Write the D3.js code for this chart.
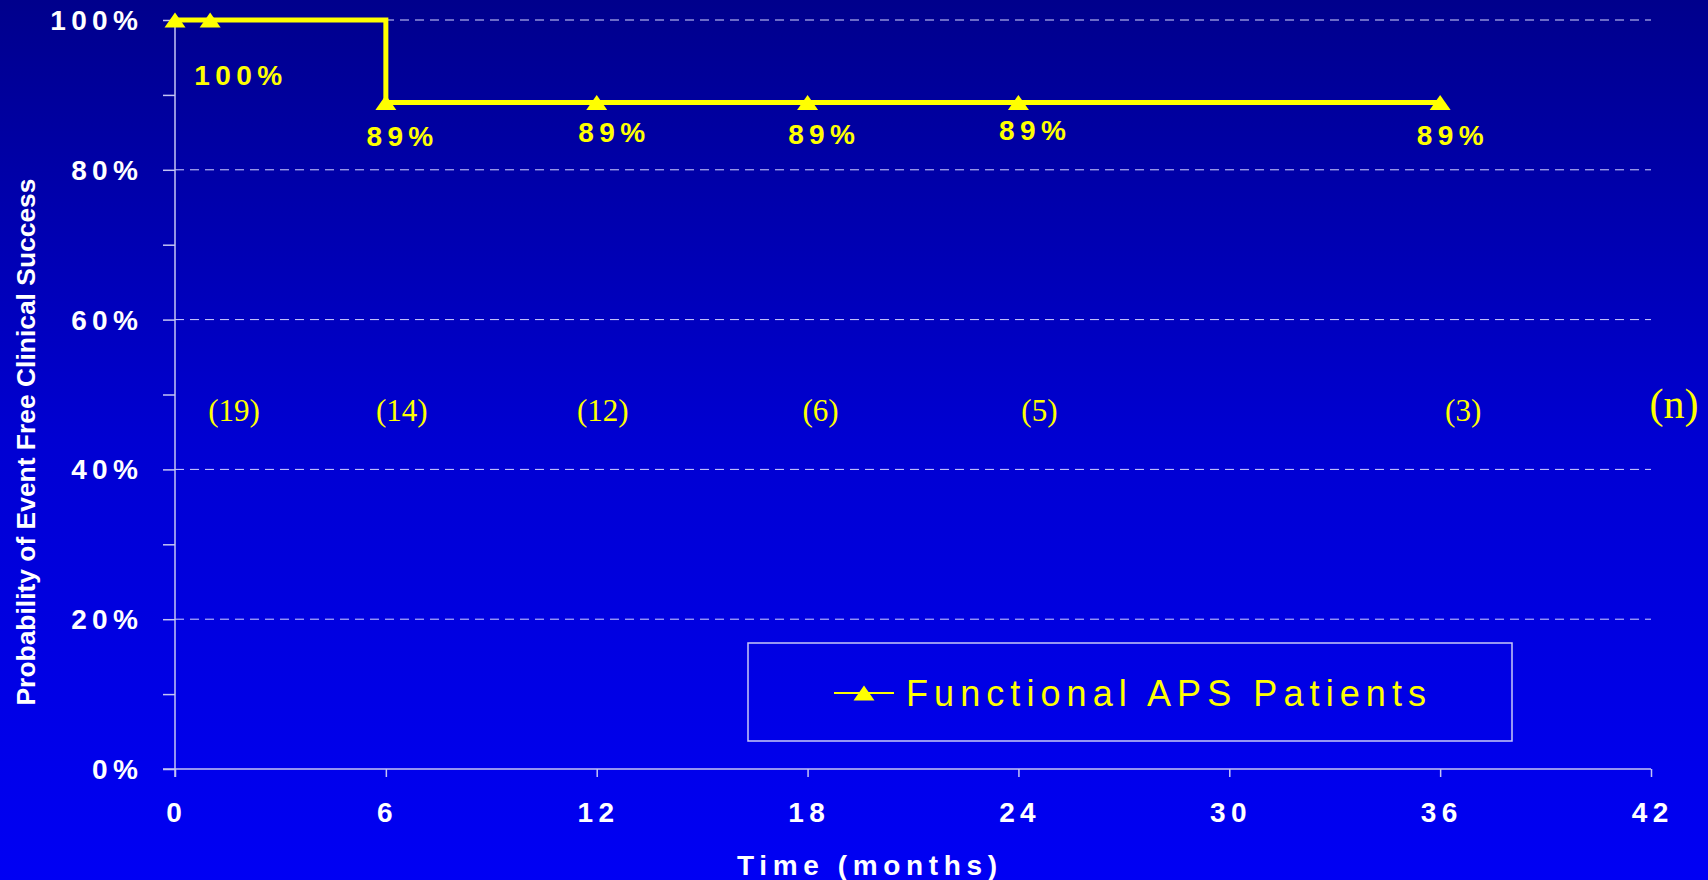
<!DOCTYPE html>
<html>
<head>
<meta charset="utf-8">
<script src="https://cdn.jsdelivr.net/npm/d3@7"></script>
<style>
  html, body { margin: 0; padding: 0; background: #0000c0; }
  svg { display: block; }
</style>
</head>
<body>
<svg id="chart" width="1708" height="880"></svg>
<script>
// Kaplan-Meier style event-free curve
const months = [0, 1, 6, 12, 18, 24, 36];
const survival = [100, 100, 89, 89, 89, 89, 89];
const valueLabels = ["", "100%", "89%", "89%", "89%", "89%", "89%"];

// patients at risk
const riskTimes = [0, 6, 12, 18, 24, 36];
const riskCounts = [19, 14, 12, 6, 5, 3];

const xTicks = [0, 6, 12, 18, 24, 30, 36, 42];
const yTicks = [0, 10, 20, 30, 40, 50, 60, 70, 80, 90, 100];
const yLabelTicks = [0, 20, 40, 60, 80, 100];
const seriesName = "Functional APS Patients";

// label nudges (pixels) for the annotations
const valueLabelNudge = [[0, 0], [28, 65], [14, 44], [15, 40], [14, 42], [14, 38], [10, 43]];
const riskNudge = [59, 16, 6, 13, 21, 23];

const W = 1708, H = 880;
const svg = d3.select("#chart");

// background gradient
const defs = svg.append("defs");
const grad = defs.append("linearGradient").attr("id", "bg")
  .attr("x1", 0).attr("y1", 0).attr("x2", 0).attr("y2", 1);
grad.append("stop").attr("offset", 0).attr("stop-color", "#00008c");
grad.append("stop").attr("offset", 0.5).attr("stop-color", "#0000d2");
grad.append("stop").attr("offset", 1).attr("stop-color", "#0000f4");
svg.append("rect").attr("width", W).attr("height", H).attr("fill", "url(#bg)");

const x = d3.scaleLinear().domain([0, 42]).range([175, 1651]);
const y = d3.scaleLinear().domain([0, 100]).range([769, 20]);

const axisColor = "#c4c4f4";
const boldFont = "'Liberation Sans', Arial, sans-serif";

// dashed gridlines
svg.append("g").selectAll("line")
  .data(yLabelTicks.filter(d => d > 0))
  .join("line")
  .attr("x1", x(0)).attr("x2", x(42))
  .attr("y1", d => y(d)).attr("y2", d => y(d))
  .attr("stroke", "#d4d4ff").attr("stroke-width", 1)
  .attr("stroke-dasharray", "9,6");

// y axis
const yAxis = svg.append("g")
  .attr("transform", `translate(${x(0)},0)`)
  .call(d3.axisLeft(y).tickValues(yTicks).tickSize(12).tickFormat(""));
yAxis.select(".domain").attr("stroke", axisColor).attr("stroke-width", 1.5).attr("d", `M0,${y(0) + 8}V${y(100)}`);
yAxis.selectAll(".tick line").attr("stroke", axisColor).attr("stroke-width", 1.5);

// y tick labels
svg.append("g").selectAll("text")
  .data(yLabelTicks)
  .join("text")
  .attr("x", 138 + 5.4)
  .attr("y", d => y(d) + 10)
  .attr("text-anchor", "end")
  .attr("fill", "#ffffff")
  .attr("font-family", boldFont)
  .attr("font-weight", "bold")
  .attr("font-size", 28)
  .attr("letter-spacing", 5.4)
  .text(d => d + "%");

// x axis
const xAxis = svg.append("g")
  .attr("transform", `translate(0,${y(0)})`)
  .call(d3.axisBottom(x).tickValues(xTicks).tickSize(8).tickFormat(""));
xAxis.select(".domain").attr("stroke", axisColor).attr("stroke-width", 1.5).attr("d", `M${x(0) - 12},0H${x(42)}`);
xAxis.selectAll(".tick line").attr("stroke", axisColor).attr("stroke-width", 1.5);

// x tick labels
svg.append("g").selectAll("text")
  .data(xTicks)
  .join("text")
  .attr("x", d => x(d) - 1 + 2.7)
  .attr("y", 822)
  .attr("text-anchor", "middle")
  .attr("fill", "#ffffff")
  .attr("font-family", boldFont)
  .attr("font-weight", "bold")
  .attr("font-size", 28)
  .attr("letter-spacing", 5.4)
  .text(d => d);

// axis titles
svg.append("text")
  .attr("x", 867).attr("y", 875)
  .attr("text-anchor", "middle")
  .attr("fill", "#ffffff")
  .attr("font-family", boldFont)
  .attr("font-weight", "bold")
  .attr("font-size", 28)
  .attr("textLength", 260)
  .attr("lengthAdjust", "spacing")
  .text("Time (months)");

svg.append("text")
  .attr("transform", "translate(35,442) rotate(-90)")
  .attr("text-anchor", "middle")
  .attr("fill", "#ffffff")
  .attr("font-family", boldFont)
  .attr("font-weight", "bold")
  .attr("font-size", 26)
  .attr("textLength", 527)
  .attr("lengthAdjust", "spacingAndGlyphs")
  .text("Probability of Event Free Clinical Success");

// step curve
const pts = months.map((m, i) => ({ m, v: survival[i], label: valueLabels[i], i }));
const line = d3.line().x(d => x(d.m)).y(d => y(d.v)).curve(d3.curveStepAfter);
svg.append("path")
  .datum(pts)
  .attr("d", line)
  .attr("fill", "none")
  .attr("stroke", "#ffff00")
  .attr("stroke-width", 5)
  .attr("stroke-linejoin", "miter");

// triangle markers (21 wide, 15 tall)
const tri = {
  draw(ctx) {
    ctx.moveTo(0, -7.5);
    ctx.lineTo(10.5, 7.5);
    ctx.lineTo(-10.5, 7.5);
    ctx.closePath();
  }
};
svg.append("g").selectAll("path")
  .data(pts)
  .join("path")
  .attr("transform", d => `translate(${x(d.m)},${y(d.v)})`)
  .attr("d", d3.symbol(tri)())
  .attr("fill", "#ffff00");

// value labels
svg.append("g").selectAll("text")
  .data(pts.filter(d => d.label))
  .join("text")
  .attr("x", d => x(d.m) + valueLabelNudge[d.i][0] + 2.7)
  .attr("y", d => y(d.v) + valueLabelNudge[d.i][1])
  .attr("text-anchor", "middle")
  .attr("fill", "#ffff00")
  .attr("font-family", boldFont)
  .attr("font-weight", "bold")
  .attr("font-size", 28)
  .attr("letter-spacing", 5.4)
  .text(d => d.label);

// numbers at risk
const serif = "'Liberation Serif', 'Times New Roman', serif";
svg.append("g").selectAll("text")
  .data(riskTimes.map((t, i) => ({ t, n: riskCounts[i], i })))
  .join("text")
  .attr("x", d => x(d.t) + riskNudge[d.i])
  .attr("y", 421)
  .attr("text-anchor", "middle")
  .attr("fill", "#ffff00")
  .attr("font-family", serif)
  .attr("font-size", 31)
  .text(d => `(${d.n})`);

svg.append("text")
  .attr("x", 1674).attr("y", 418)
  .attr("text-anchor", "middle")
  .attr("fill", "#ffff00")
  .attr("font-family", serif)
  .attr("font-size", 42)
  .text("(n)");

// legend
const lg = svg.append("g");
lg.append("rect")
  .attr("x", 748).attr("y", 643)
  .attr("width", 764).attr("height", 98)
  .attr("fill", "none")
  .attr("stroke", "#c8c8f8").attr("stroke-width", 1.5);
lg.append("line")
  .attr("x1", 834).attr("x2", 894)
  .attr("y1", 693).attr("y2", 693)
  .attr("stroke", "#ffff00").attr("stroke-width", 2);
lg.append("path")
  .attr("transform", "translate(864,693)")
  .attr("d", d3.symbol(tri)())
  .attr("fill", "#ffff00");
lg.append("text")
  .attr("x", 906).attr("y", 706)
  .attr("fill", "#ffff00")
  .attr("font-family", boldFont)
  .attr("font-size", 36)
  .attr("textLength", 520)
  .attr("lengthAdjust", "spacing")
  .text(seriesName);
</script>
</body>
</html>
